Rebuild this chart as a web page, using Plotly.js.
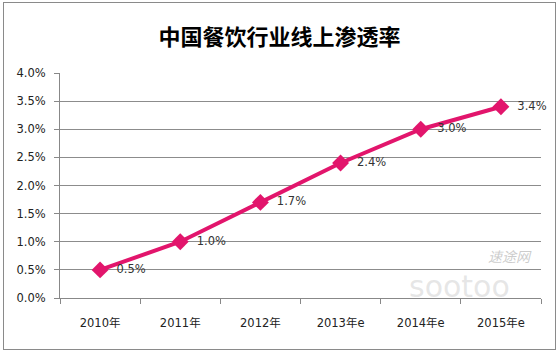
<!DOCTYPE html>
<html><head><meta charset="utf-8">
<script src="https://cdn.plot.ly/plotly-3.0.1.min.js"></script>
<style>
html,body{margin:0;padding:0;background:#fff;}
#wrap{position:relative;width:559px;height:353px;}
#chart{position:absolute;left:0;top:0;width:559px;height:353px;}
#frame{position:absolute;left:3px;top:2px;width:551px;height:346px;border:1px solid #8a8a8a;pointer-events:none;}
</style></head>
<body><div id="wrap"><div id="chart"></div><div id="frame"></div></div>
<script>
const categories = ["2010年","2011年","2012年","2013年e","2014年e","2015年e"];
const values = [0.5, 1.0, 1.7, 2.4, 3.0, 3.4];
const labels = ["0.5%","1.0%","1.7%","2.4%","3.0%","3.4%"];
const yTicks = [0,0.5,1.0,1.5,2.0,2.5,3.0,3.5,4.0];
const yTickText = ["0.0%","0.5%","1.0%","1.5%","2.0%","2.5%","3.0%","3.5%","4.0%"];
const titleText = "中国餐饮行业线上渗透率";

const font = "'DejaVu Sans', 'Noto Sans CJK SC', sans-serif";
const cjk = "'Noto Sans CJK SC', sans-serif";
const trace = {
  type:"scatter", mode:"lines+markers+text",
  x:categories, y:values, text:labels.map(s=>"\u00a0\u00a0"+s), textposition:"middle right",
  textfont:{family:font,size:11.5,color:"#333"},
  line:{color:"#E2156C",width:4},
  marker:{symbol:"diamond",size:13,color:"#E2156C"},
  cliponaxis:false, hoverinfo:"skip"
};
const layout = {
  width:559,height:353,
  margin:{l:60,r:18,t:73,b:55},
  paper_bgcolor:"#fff",plot_bgcolor:"#fff",
  showlegend:false,
  title:{text:"<b>"+titleText+"</b>",x:0.5,xanchor:"center",y:0.895,yanchor:"middle",
    font:{family:cjk,size:22,color:"#000"}},
  xaxis:{type:"category",range:[-0.5,5.5],showgrid:false,showline:true,linecolor:"#888",linewidth:1,
    ticks:"outside",tickson:"boundaries",ticklen:5,tickcolor:"#888",ticklabelstandoff:14,
    tickfont:{family:font,size:11.5,color:"#222"},zeroline:false,fixedrange:true},
  yaxis:{range:[0,4],tickvals:yTicks,ticktext:yTickText,showgrid:true,gridcolor:"#8c8c8c",gridwidth:1,
    showline:true,linecolor:"#888",linewidth:1,ticks:"outside",ticklen:5,tickcolor:"#888",ticklabelstandoff:6,
    tickfont:{family:font,size:11.5,color:"#222"},zeroline:false,fixedrange:true},
  annotations:[
    {xref:"paper",yref:"paper",x:0.935,y:0.185,xanchor:"center",yanchor:"middle",showarrow:false,
     text:"<i>速途网</i>",font:{family:cjk,size:14,color:"rgba(170,170,170,0.6)"}},
    {xref:"paper",yref:"paper",x:0.83,y:0.05,xanchor:"center",yanchor:"middle",showarrow:false,
     text:"sootoo",font:{family:"'DejaVu Sans', sans-serif",size:30,color:"rgba(200,200,200,0.45)"}}
  ]
};
Plotly.newPlot("chart",[trace],layout,{staticPlot:true,displayModeBar:false});
</script></body></html>
